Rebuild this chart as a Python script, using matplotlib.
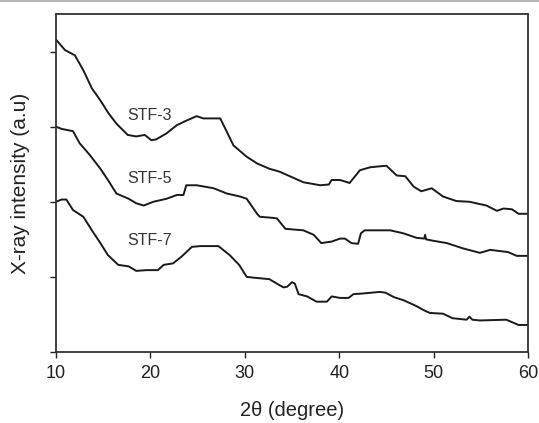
import matplotlib
matplotlib.use("Agg")
import matplotlib.pyplot as plt
from matplotlib.lines import Line2D

# STF-3
x3 = [10.0, 10.95, 12.0, 12.9, 13.8, 14.7, 15.5, 16.4, 17.6, 18.5, 19.4, 20.1, 20.6, 21.7, 22.8, 23.8,
      24.9, 25.6, 27.4, 28.8, 30.2, 31.3, 32.6, 33.7, 36.2, 38.0, 38.9, 39.2, 40.1, 41.1, 42.2, 43.3,
      45.0, 46.1, 47.0, 47.9, 48.7, 49.8, 51.0, 52.4, 53.8, 55.6, 56.7, 57.4, 58.3, 59.0, 60.0]
y3 = [4.16, 4.02, 3.95, 3.75, 3.51, 3.35, 3.19, 3.04, 2.89, 2.87, 2.89, 2.82, 2.83, 2.91, 3.02, 3.08,
      3.14, 3.11, 3.11, 2.75, 2.60, 2.51, 2.44, 2.40, 2.26, 2.22, 2.23, 2.29, 2.29, 2.25, 2.42, 2.46,
      2.48, 2.35, 2.34, 2.20, 2.14, 2.18, 2.07, 2.01, 2.00, 1.95, 1.88, 1.91, 1.90, 1.84, 1.84]

# STF-5
x5 = [10.0, 10.6, 11.8, 12.5, 13.6, 14.7, 15.5, 16.4, 17.7, 18.5, 19.3, 20.3, 21.7, 22.8, 23.5, 23.8,
      24.9, 26.7, 28.1, 29.5, 30.2, 31.3, 31.6, 32.6, 33.4, 34.3, 36.2, 37.3, 38.1, 39.2, 40.1, 40.6,
      41.3, 42.0, 42.3, 42.7, 45.4, 46.8, 48.2, 49.0, 49.1, 49.2, 50.0, 51.4, 53.1, 54.9, 56.0, 57.9,
      58.8, 60.0]
y5 = [3.00, 2.97, 2.94, 2.78, 2.62, 2.44, 2.29, 2.11, 2.04, 1.98, 1.95, 2.00, 2.04, 2.09, 2.09, 2.22,
      2.22, 2.18, 2.11, 2.07, 2.04, 1.84, 1.80, 1.79, 1.78, 1.64, 1.62, 1.56, 1.45, 1.47, 1.51, 1.51,
      1.45, 1.44, 1.58, 1.62, 1.62, 1.58, 1.52, 1.51, 1.56, 1.50, 1.48, 1.45, 1.38, 1.32, 1.36, 1.33,
      1.28, 1.28]

# STF-7
x7 = [10.0, 10.6, 11.1, 11.8, 12.9, 13.8, 14.7, 15.5, 16.6, 17.7, 18.5, 19.6, 20.8, 21.4, 22.4, 23.3,
      24.4, 25.3, 27.2, 28.4, 29.4, 30.2, 30.9, 32.6, 33.4, 34.1, 34.5, 35.0, 35.3, 35.7, 36.6, 37.6,
      38.7, 39.2, 40.1, 41.0, 41.5, 42.6, 44.3, 44.9, 45.8, 46.8, 48.2, 48.9, 49.6, 51.0, 52.0, 53.5,
      53.8, 54.1, 54.9, 57.7, 59.0, 60.0]
y7 = [2.00, 2.03, 2.03, 1.89, 1.80, 1.62, 1.45, 1.29, 1.16, 1.14, 1.08, 1.09, 1.09, 1.16, 1.18, 1.27,
      1.40, 1.41, 1.41, 1.29, 1.16, 1.00, 0.99, 0.97, 0.91, 0.86, 0.87, 0.93, 0.91, 0.77, 0.74, 0.67,
      0.67, 0.74, 0.72, 0.72, 0.77, 0.78, 0.80, 0.79, 0.73, 0.69, 0.61, 0.56, 0.52, 0.51, 0.45, 0.43,
      0.47, 0.43, 0.42, 0.43, 0.36, 0.36]

labels = ["STF-3", "STF-5", "STF-7"]
label_x = [19.9, 19.9, 19.9]
label_y = [3.15, 2.31, 1.48]

x_ticks = [10, 20, 30, 40, 50, 60]
y_ticks = [0, 1, 2, 3, 4]

plt.rcParams['font.family'] = ['Liberation Sans', 'DejaVu Sans']

fig = plt.figure(figsize=(5.39, 4.23), dpi=100)
ax = fig.add_axes([56/539, 1 - 352/423, (528-56)/539, (352-14)/423])

for xs, ys in [(x3, y3), (x5, y5), (x7, y7)]:
    ax.plot(xs, ys, color='#1a1a1a', lw=1.4, solid_joinstyle='round')

for lab, lx, ly in zip(labels, label_x, label_y):
    ax.text(lx, ly, lab, ha='center', va='center', fontsize=11.5, color='#333333')

ax.set_xlim(10, 60)
ax.set_ylim(0, 4.5)
ax.set_xticks(x_ticks)
ax.set_xticklabels([str(t) for t in x_ticks], fontsize=13)
ax.set_yticks(y_ticks)
ax.set_yticklabels([])
ax.tick_params(direction='out', length=4, width=1, colors='#222222', labelcolor='#222222', pad=5)
for s in ax.spines.values():
    s.set_linewidth(1.3)
    s.set_color('#333333')

ax.set_xlabel('2\u03b8 (degree)', fontsize=14.5, labelpad=14, color='#222222')
ax.set_ylabel('X-ray intensity (a.u)', fontsize=15, labelpad=10, color='#222222')

fig.add_artist(Line2D([0, 1], [0.998, 0.998], color='#aaaaaa', lw=1.2, transform=fig.transFigure))

fig.savefig('out.png', dpi=100)
